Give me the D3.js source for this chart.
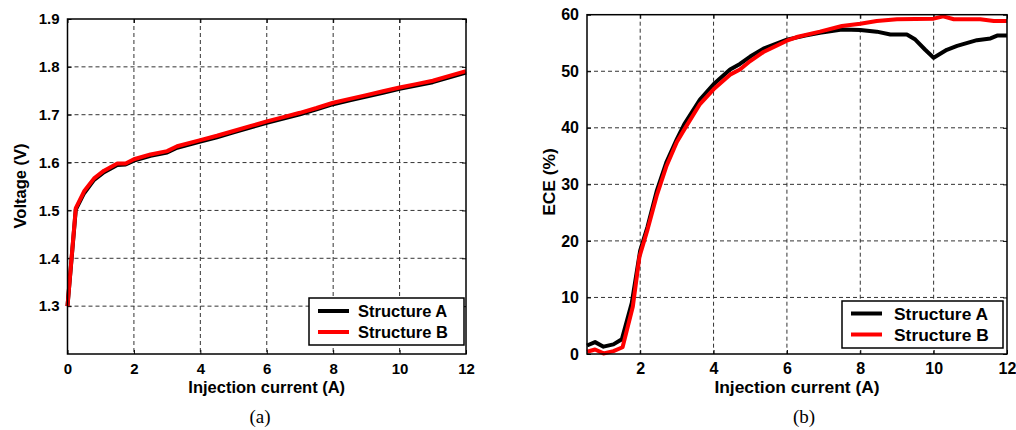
<!DOCTYPE html>
<html>
<head>
<meta charset="utf-8">
<script src="https://cdn.jsdelivr.net/npm/d3@7"></script>
<style>
  html, body { margin: 0; padding: 0; background: #fff; }
  svg { display: block; }
  text { font-family: "Liberation Sans", Arial, Helvetica, sans-serif; font-weight: bold; fill: #000; }
  .caption { font-family: "Liberation Serif", "Times New Roman", serif; font-weight: normal; }
</style>
</head>
<body>
<svg id="chart" width="1016" height="430"></svg>
<script>
// ---- (a) Voltage vs. injection current ----
const currentV = [0, 0.25, 0.5, 0.8, 1.1, 1.5, 1.75, 2.0, 2.5, 3.0, 3.3, 4.0, 4.5, 5.0, 5.5, 6.0, 6.5, 7.0, 7.5, 8.0, 8.5, 9.0, 9.5, 10.0, 10.5, 11.0, 11.5, 12.0];
const voltageA = [1.30, 1.502, 1.536, 1.564, 1.580, 1.595, 1.596, 1.604, 1.614, 1.621, 1.631, 1.644, 1.653, 1.663, 1.673, 1.683, 1.692, 1.701, 1.711, 1.722, 1.730, 1.738, 1.746, 1.754, 1.761, 1.768, 1.778, 1.788];
const voltageB = [1.30, 1.505, 1.540, 1.567, 1.583, 1.598, 1.598, 1.607, 1.617, 1.624, 1.634, 1.647, 1.656, 1.666, 1.676, 1.686, 1.695, 1.704, 1.714, 1.725, 1.733, 1.741, 1.749, 1.757, 1.764, 1.771, 1.781, 1.791];
const voltTicksX = [0, 2, 4, 6, 8, 10, 12];
const voltTicksY = [1.3, 1.4, 1.5, 1.6, 1.7, 1.8, 1.9];

// ---- (b) ECE vs. injection current ----
const eceCurrentA = [0.55, 0.77, 1.0, 1.27, 1.5, 1.77, 2.0, 2.2, 2.45, 2.72, 3.0, 3.2, 3.63, 4.0, 4.45, 4.72, 5.0, 5.36, 6.0, 6.5, 6.9, 7.5, 8.0, 8.45, 8.82, 9.27, 9.5, 9.77, 10.0, 10.36, 10.64, 11.18, 11.55, 11.73, 12.0];
const eceA = [1.5, 2.1, 1.3, 1.7, 2.6, 9.0, 18.3, 22.5, 28.8, 34.0, 38.0, 40.6, 45.0, 47.7, 50.3, 51.3, 52.6, 54.0, 55.6, 56.3, 56.8, 57.4, 57.3, 57.0, 56.5, 56.5, 55.6, 53.8, 52.4, 53.8, 54.5, 55.5, 55.8, 56.3, 56.3];
const eceCurrentB = [0.55, 0.77, 1.0, 1.27, 1.52, 1.8, 1.98, 2.2, 2.45, 2.72, 3.0, 3.22, 3.63, 4.0, 4.45, 4.72, 5.0, 5.36, 6.0, 6.3, 6.9, 7.5, 8.0, 8.45, 9.0, 10.0, 10.26, 10.55, 11.27, 11.64, 12.0];
const eceB = [0.4, 0.8, 0.1, 0.5, 1.2, 8.4, 17.2, 22.0, 28.0, 33.3, 37.5, 39.9, 44.2, 46.8, 49.4, 50.3, 51.8, 53.4, 55.4, 56.1, 57.0, 58.0, 58.4, 58.9, 59.2, 59.3, 59.7, 59.2, 59.2, 58.9, 58.9];
const eceTicksX = [2, 4, 6, 8, 10, 12];
const eceTicksY = [0, 10, 20, 30, 40, 50, 60];

const seriesNames = ["Structure A", "Structure B"];
const seriesColors = ["#000000", "#ff0000"];

const svg = d3.select("#chart");

function drawPanel(cfg) {
  const g = svg.append("g");
  const x = d3.scaleLinear().domain(cfg.xDomain).range([cfg.left, cfg.right]);
  const y = d3.scaleLinear().domain(cfg.yDomain).range([cfg.bottom, cfg.top]);

  // dashed grid
  const grid = g.append("g");
  grid.selectAll("line.gx").data(cfg.xTicks.filter(t => t > cfg.xDomain[0] && t < cfg.xDomain[1]))
    .join("line").attr("x1", d => x(d)).attr("x2", d => x(d))
    .attr("y1", cfg.top).attr("y2", cfg.bottom)
    .attr("stroke", "#333").attr("stroke-width", 1).attr("stroke-dasharray", "4,3");
  grid.selectAll("line.gy").data(cfg.yTicks.filter(t => t > cfg.yDomain[0] && t < cfg.yDomain[1]))
    .join("line").attr("x1", cfg.left).attr("x2", cfg.right)
    .attr("y1", d => y(d)).attr("y2", d => y(d))
    .attr("stroke", "#333").attr("stroke-width", 1).attr("stroke-dasharray", "4,3");

  // axes with inward ticks
  const ax = g.append("g").attr("transform", `translate(0,${cfg.bottom})`)
    .call(d3.axisBottom(x).tickValues(cfg.xTicks).tickSizeInner(-4).tickSizeOuter(0).tickPadding(9).tickFormat(d3.format("d")));
  const axTop = g.append("g").attr("transform", `translate(0,${cfg.top})`)
    .call(d3.axisTop(x).tickValues(cfg.xTicks).tickSizeInner(-4).tickSizeOuter(0).tickFormat(""));
  const ay = g.append("g").attr("transform", `translate(${cfg.left},0)`)
    .call(d3.axisLeft(y).tickValues(cfg.yTicks).tickSizeInner(-4).tickSizeOuter(0).tickPadding(8).tickFormat(cfg.yFormat));
  const ayR = g.append("g").attr("transform", `translate(${cfg.right},0)`)
    .call(d3.axisRight(y).tickValues(cfg.yTicks).tickSizeInner(-4).tickSizeOuter(0).tickFormat(""));
  [ax, axTop, ay, ayR].forEach(a => {
    a.select(".domain").remove();
    a.selectAll(".tick line").attr("stroke", "#000").attr("stroke-width", 1);
    a.selectAll(".tick text").style("font-size", cfg.tickFont + "px")
      .style("font-family", '"Liberation Sans", Arial, sans-serif').style("font-weight", "bold").attr("fill", "#000");
  });

  // series lines
  const line = d3.line().x(d => x(d[0])).y(d => y(d[1]));
  cfg.series.forEach((s, i) => {
    g.append("path").datum(d3.zip(s.xs, s.ys))
      .attr("d", line).attr("fill", "none")
      .attr("stroke", seriesColors[i]).attr("stroke-width", 4)
      .attr("stroke-linejoin", "round");
  });

  // frame
  g.append("rect").attr("x", cfg.left).attr("y", cfg.top)
    .attr("width", cfg.right - cfg.left).attr("height", cfg.bottom - cfg.top)
    .attr("fill", "none").attr("stroke", "#000").attr("stroke-width", 1.5);

  // axis labels
  g.append("text").attr("x", (cfg.left + cfg.right) / 2).attr("y", 393)
    .attr("text-anchor", "middle").style("font-size", cfg.labelFont + "px").text("Injection current (A)");
  g.append("text").attr("transform", `translate(${cfg.yLabelX},${cfg.yLabelY}) rotate(-90)`)
    .attr("text-anchor", "middle").style("font-size", cfg.labelFont + "px").text(cfg.yLabel);

  // legend
  const L = cfg.legend;
  g.append("rect").attr("x", L.x).attr("y", L.y).attr("width", L.w).attr("height", L.h)
    .attr("fill", "#fff").attr("stroke", "#000").attr("stroke-width", 1.5);
  seriesNames.forEach((name, i) => {
    const cy = L.y + L.row0 + i * L.rowGap;
    g.append("line").attr("x1", L.x + 9).attr("x2", L.x + 40).attr("y1", cy).attr("y2", cy)
      .attr("stroke", seriesColors[i]).attr("stroke-width", 4);
    g.append("text").attr("x", L.x + L.textDx).attr("y", cy + 6)
      .style("font-size", cfg.labelFont + "px").text(name);
  });

  // caption
  svg.append("text").attr("class", "caption").attr("x", cfg.captionX).attr("y", 423)
    .attr("text-anchor", "middle").style("font-size", "19px").text(cfg.caption);
}

drawPanel({
  left: 67.5, right: 466, top: 19, bottom: 354,
  xDomain: [0, 12], yDomain: [1.2, 1.9],
  xTicks: voltTicksX, yTicks: voltTicksY, yFormat: d3.format(".1f"),
  tickFont: 15, labelFont: 16.5,
  series: [{ xs: currentV, ys: voltageA }, { xs: currentV, ys: voltageB }],
  yLabel: "Voltage (V)", yLabelX: 26, yLabelY: 186,
  legend: { x: 309, y: 298, w: 155, h: 47, row0: 13, rowGap: 21, textDx: 49 },
  caption: "(a)", captionX: 260
});

drawPanel({
  left: 587, right: 1007, top: 14.7, bottom: 354,
  xDomain: [0.55, 12], yDomain: [0, 60],
  xTicks: eceTicksX, yTicks: eceTicksY, yFormat: d3.format("d"),
  tickFont: 16, labelFont: 17.4,
  series: [{ xs: eceCurrentA, ys: eceA }, { xs: eceCurrentB, ys: eceB }],
  yLabel: "ECE (%)", yLabelX: 555, yLabelY: 182,
  legend: { x: 842, y: 301, w: 161, h: 47, row0: 12.5, rowGap: 21, textDx: 52 },
  caption: "(b)", captionX: 804
});
</script>
</body>
</html>
